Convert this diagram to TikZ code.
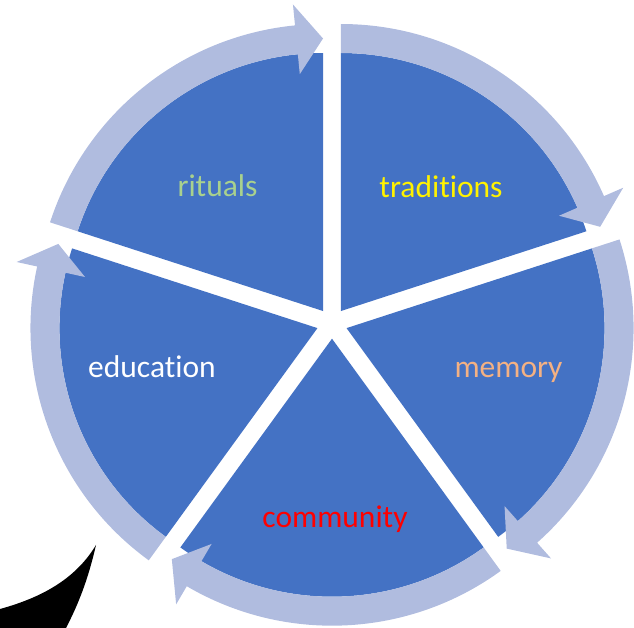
\documentclass[tikz,border=0pt]{standalone}
\usepackage{fontspec}
\setmainfont{Carlito}[Ligatures=NoCommon]
\usetikzlibrary{calc}
\definecolor{wedgeblue}{RGB}{68,114,196}
\definecolor{arrowlight}{RGB}{176,188,223}
\definecolor{ritualgreen}{RGB}{169,209,142}
\definecolor{memorypeach}{RGB}{244,177,131}
\tikzset{
  wedge/.style={fill=wedgeblue},
  cyclearrow/.style={fill=arrowlight},
  lbl/.style={anchor=base, inner sep=0pt, font=\fontsize{31.5}{36}\selectfont},
}
\begin{document}
\begin{tikzpicture}[x=1pt,y=1pt]
\useasboundingbox (0,0) rectangle (634,628);
\coordinate (C) at (332,304.6);
\def\dd{15.3}
\def\RR{258}
\def\Ro{287}
\def\Rt{272.5}
\def\Bi{238}
\def\Bo{308}
\def\hh{5.6}
% wedges
\foreach \s in {162,90,18,-54,-126}{
  \pgfmathsetmacro{\m}{\s-36}
  \pgfmathsetmacro{\e}{\s-72}
  \begin{scope}[shift={($(C)+(\m:\dd)$)}]
    \fill[wedge] (0,0) -- (\s:\RR) arc[start angle=\s, end angle=\e, radius=\RR] -- cycle;
  \end{scope}
}
% arrows
\foreach \s in {162,90,18,-54,-126}{
  \pgfmathsetmacro{\m}{\s-36}
  \pgfmathsetmacro{\e}{\s-72}
  \pgfmathsetmacro{\b}{\s-72+\hh}
  \begin{scope}[shift={($(C)+(\m:\dd)$)}]
    \fill[cyclearrow] (\s:\RR) -- (\s:\Ro) arc[start angle=\s, end angle=\b, radius=\Ro]
      -- (\b:\Bo) -- (\e:\Rt) -- (\b:\Bi) -- (\b:\RR)
      arc[start angle=\b, end angle=\s, radius=\RR] -- cycle;
  \end{scope}
}
% labels
\node[lbl, text=ritualgreen] (rituals) at (217.5,431) {rituals};
\node[lbl, text=yellow] (traditions) at (441,430) {traditions};
\node[lbl, text=memorypeach] (memory) at (508.5,250) {memory};
\node[lbl, text=red] (community) at (335,100) {community};
\node[lbl, text=white] (education) at (152,250) {education};
% black shape
\fill[black] (0,19) .. controls (40,30) and (75,48) .. (96,83)
  .. controls (88,48) and (78,23) .. (66,0) -- (0,0) -- cycle;
\end{tikzpicture}
\end{document}
